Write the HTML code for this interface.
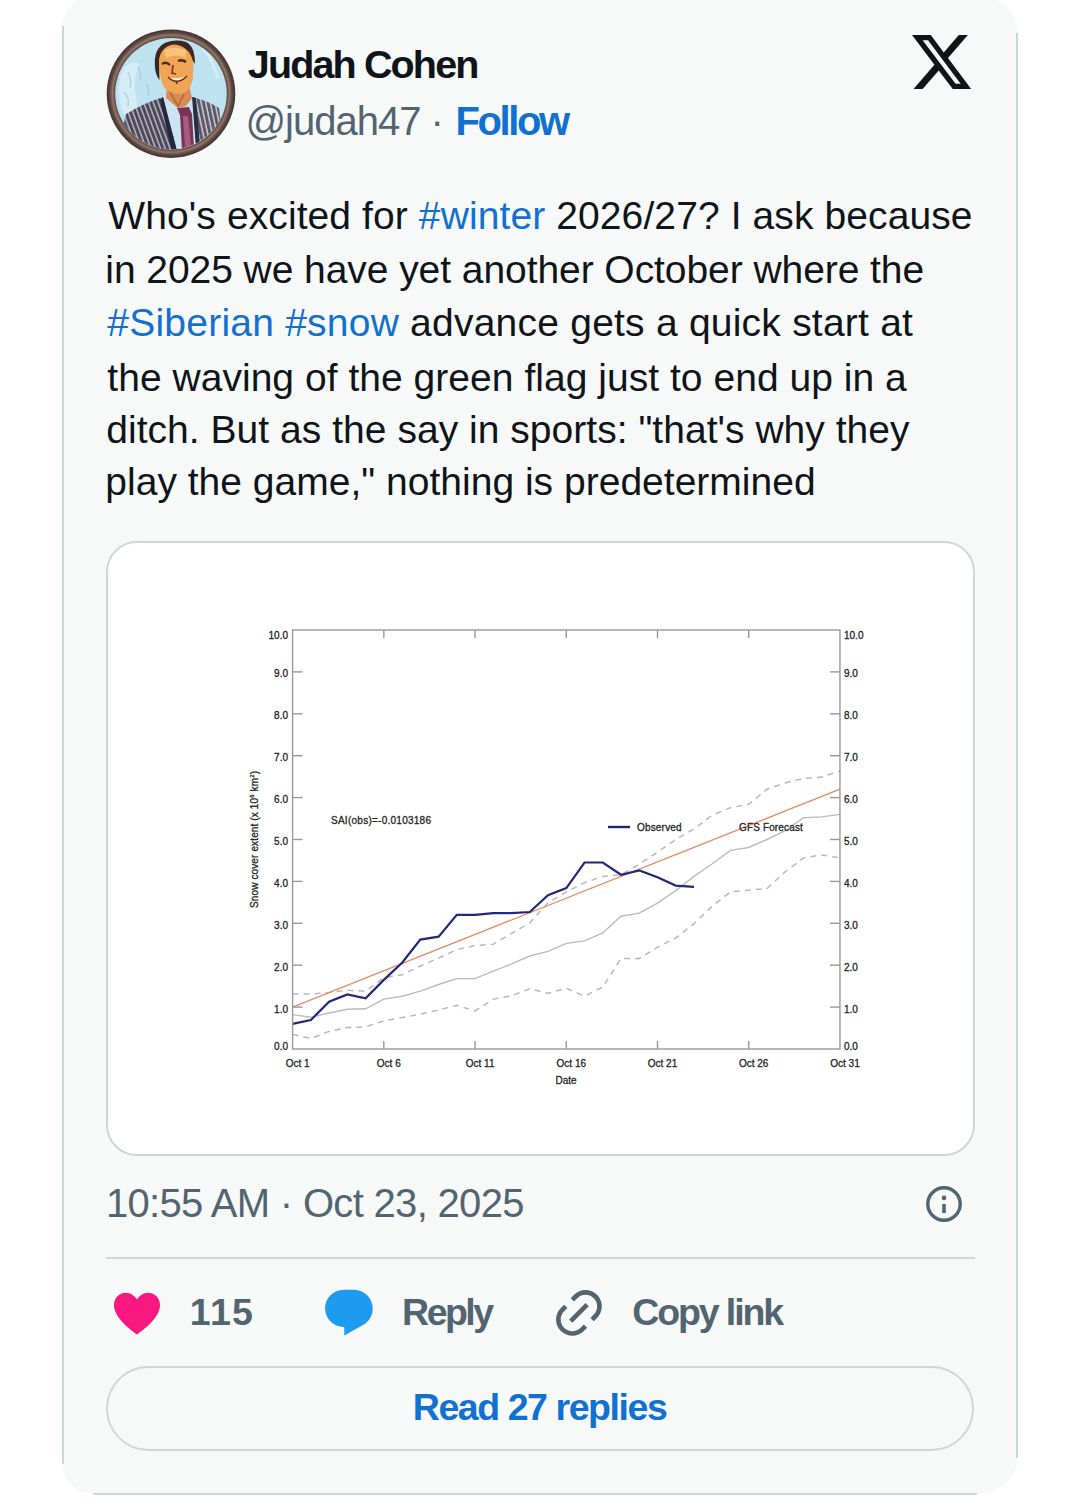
<!DOCTYPE html>
<html><head><meta charset="utf-8"><style>
html,body{margin:0;padding:0;background:#fff;width:1077px;height:1508px;overflow:hidden;font-family:"Liberation Sans",sans-serif;}
.card{position:absolute;box-sizing:border-box;left:62px;top:-4px;width:956px;height:1498px;background:#f7f9f9;border-radius:32px 38px 38px 31px;}
.edge{position:absolute;background:#cfd6da;}
.l{color:#1170d0}
.ct{font-family:"Liberation Sans",sans-serif;font-size:10px;fill:#262626;stroke:#262626;stroke-width:0.3px;}
.box{position:absolute;box-sizing:border-box;left:106px;top:541px;width:869px;height:615px;background:#fff;border:2px solid #cfd5d8;border-radius:31px;}
.div{position:absolute;left:106px;top:1257px;width:869px;height:2px;background:#d0d6d9;}
.btn{position:absolute;box-sizing:border-box;left:106px;top:1366px;width:868px;height:85px;border:2px solid #cfd5d8;border-radius:43px;}
</style></head><body>
<div class="card"></div><div class="edge" style="left:62.3px;top:26px;width:2px;height:1438px"></div><div class="edge" style="left:1016.3px;top:33px;width:2px;height:1425px"></div><div class="edge" style="left:93px;top:1492.5px;width:884px;height:2px"></div>
<svg style="position:absolute;left:106px;top:28px" width="131" height="131" viewBox="0 0 131 131">
<defs>
<clipPath id="cc"><circle cx="65" cy="65.7" r="55.5"/></clipPath>
<pattern id="stL" width="4.5" height="6" patternUnits="userSpaceOnUse" patternTransform="rotate(-20)"><rect width="4.5" height="6" fill="#4a4756"/><rect x="0.3" width="1.4" height="6" fill="#c4bfcc"/></pattern>
<pattern id="stR" width="4.5" height="6" patternUnits="userSpaceOnUse" patternTransform="rotate(-12)"><rect width="4.5" height="6" fill="#5c5866"/><rect x="0.3" width="1.5" height="6" fill="#d2ccd8"/></pattern>
<radialGradient id="ring" cx="0.5" cy="0.5" r="0.5"><stop offset="0.86" stop-color="#4e3c36"/><stop offset="0.91" stop-color="#937568"/><stop offset="0.95" stop-color="#5c4841"/><stop offset="1" stop-color="#3f322f"/></radialGradient>
</defs>
<circle cx="65" cy="65.7" r="64.3" fill="url(#ring)"/>
<circle cx="65" cy="65.7" r="55.8" fill="#bee2f0"/>
<g clip-path="url(#cc)">
<path d="M14 50 Q20 30 34 36 Q26 50 30 70 Q34 86 20 88 Q10 76 14 50 Z" fill="#d8eef7" opacity="0.9"/>
<path d="M22 44 Q26 52 24 60 M18 64 Q24 70 22 78 M32 38 Q36 46 34 52 M40 56 Q44 62 42 68" stroke="#9cc4d4" stroke-width="1.4" fill="none" opacity="0.7"/>
<path d="M96 20 Q106 30 112 50" stroke="#d6edf6" stroke-width="3" fill="none"/>
<!-- shirt -->
<path d="M56 68 L88 68 L92 122 L70 124 Z" fill="#c9e5f4"/>
<!-- suit left -->
<path d="M8 140 L20 86 Q36 76 57 69 L71 123 L72 140 Z" fill="url(#stL)"/>
<path d="M57 69 L71 123 L66 124 L54 72 Z" fill="#23283f"/>
<!-- suit right -->
<path d="M87 69 Q104 74 113 80 L120 140 L86 140 L90 120 Z" fill="url(#stR)"/>
<path d="M86 69 L90 120 L94 118 L90 70 Z" fill="#2a2e44"/>
<!-- tie -->
<path d="M71 80 L83 79 L86 86 L88 120 L76 122 L74 87 Z" fill="#7d3355"/>
<path d="M77 88 L82 88 L85 118 L79 119 Z" fill="#c27a98" opacity="0.6"/>
<!-- neck -->
<path d="M61 58 L83 58 L86 70 L80 78 L72 80 L60 70 Z" fill="#d98a55"/>
<path d="M64 64 L72 78 L78 66" stroke="#9a4a2a" stroke-width="1.5" fill="none" opacity="0.6"/>
<!-- face -->
<path d="M52.5 32 Q54 16 66 15 Q84 15 87.5 32 L87 50 Q84 66 72 66 Q58 65 55 52 Z" fill="#f0a456"/>
<path d="M58 22 Q68 17 80 22 L80 30 Q70 25 60 30 Z" fill="#f6c67c" opacity="0.9"/>
<!-- hair -->
<path d="M49 40 Q47 20 60 14.5 Q70 11 80 14 Q89 18 89 36 L87 33 Q83 18 68 16.5 Q55 18 53 32 L53.5 52 Q50 48 49 40 Z" fill="#3e2620"/>
<!-- eyes -->
<path d="M56 36 Q60 33 64 37" stroke="#4a2a1a" stroke-width="2.4" fill="none"/>
<path d="M72 33 Q76 31 80 34" stroke="#4a2a1a" stroke-width="2.4" fill="none"/>
<path d="M67 37 L66 45 L70 46" stroke="#8a3a20" stroke-width="1.8" fill="none"/>
<!-- smile -->
<path d="M62 49 Q71 58 81 48 Q71 52 62 49 Z" fill="#fbf0e6"/>
<path d="M62 49 Q71 58 81 48" stroke="#6a2a18" stroke-width="1.4" fill="none"/>
<path d="M70 53 L71 56" stroke="#6a2a18" stroke-width="1.5"/>
</g>
</svg>

<svg style="position:absolute;left:911.8px;top:34.9px" width="59.2" height="54.4" viewBox="1.254 2.25 21.5 19.5" preserveAspectRatio="none"><path fill="#0f1419" d="M18.244 2.25h3.308l-7.227 8.26 8.502 11.24H16.17l-5.214-6.817L4.99 21.75H1.68l7.73-8.835L1.254 2.25H8.08l4.713 6.231zm-1.161 17.52h1.833L7.084 4.126H5.117z"/></svg>
<div class="box"></div>
<svg width="1077" height="1508" style="position:absolute;left:0;top:0"><polyline points="292.6,1034.3 310.8,1038.5 329.1,1031.4 347.3,1027.6 365.6,1026.8 383.8,1020.9 402.1,1017.6 420.3,1014.2 438.6,1010.0 456.8,1005.4 475.1,1010.9 493.3,999.1 511.5,995.8 529.8,988.7 548.0,993.3 566.3,988.2 584.5,996.2 602.8,987.0 621.0,958.5 639.3,958.5 657.5,947.2 675.7,938.0 694.0,923.7 712.2,906.1 730.5,891.9 748.7,890.2 767.0,888.5 785.2,871.8 803.5,857.9 821.7,855.0 840.0,857.9" fill="none" stroke="#b8b8bd" stroke-width="1.5" stroke-dasharray="6 5"/><polyline points="292.6,994.1 310.8,994.1 329.1,992.4 347.3,990.3 365.6,991.2 383.8,977.8 402.1,974.8 420.3,966.0 438.6,958.1 456.8,949.7 475.1,945.5 493.3,944.2 511.5,933.4 529.8,922.9 548.0,902.8 566.3,891.9 584.5,882.7 602.8,876.4 621.0,874.7 639.3,864.2 657.5,852.1 675.7,839.5 694.0,829.0 712.2,815.2 730.5,807.7 748.7,804.3 767.0,789.2 785.2,782.9 803.5,778.3 821.7,777.1 840.0,770.8" fill="none" stroke="#b8b8bd" stroke-width="1.5" stroke-dasharray="6 5"/><polyline points="292.6,1014.6 310.8,1017.2 329.1,1013.0 347.3,1009.2 365.6,1008.8 383.8,999.1 402.1,996.2 420.3,991.2 438.6,984.5 456.8,978.6 475.1,978.6 493.3,971.1 511.5,963.9 529.8,956.0 548.0,951.4 566.3,943.4 584.5,940.9 602.8,932.9 621.0,916.2 639.3,913.2 657.5,903.2 675.7,890.6 694.0,876.4 712.2,863.8 730.5,850.4 748.7,847.5 767.0,839.5 785.2,830.7 803.5,817.7 821.7,816.9 840.0,814.4" fill="none" stroke="#bcbcc0" stroke-width="1.4"/><line x1="292.6" y1="1007.1" x2="839.95" y2="789.22" stroke="#e48c62" stroke-width="1.3"/><polyline points="292.6,1023.9 310.8,1020.1 329.1,1001.7 347.3,994.5 365.6,998.3 383.8,979.9 402.1,962.7 420.3,939.6 438.6,936.7 456.8,914.9 475.1,914.9 493.3,913.2 511.5,913.2 529.8,912.0 548.0,895.2 566.3,888.1 584.5,862.5 602.8,862.5 621.0,874.7 639.3,870.5 657.5,877.2 675.7,885.6 694.0,886.8" fill="none" stroke="#232878" stroke-width="2.2" stroke-linejoin="miter"/><rect x="292.6" y="630.0" width="547.35" height="419.0" fill="none" stroke="#999999" stroke-width="1.4"/><line x1="383.82500000000005" y1="630.0" x2="383.82500000000005" y2="638.0" stroke="#999999" stroke-width="1.4"/><line x1="383.82500000000005" y1="1049.0" x2="383.82500000000005" y2="1041.0" stroke="#999999" stroke-width="1.4"/><line x1="475.05000000000007" y1="630.0" x2="475.05000000000007" y2="638.0" stroke="#999999" stroke-width="1.4"/><line x1="475.05000000000007" y1="1049.0" x2="475.05000000000007" y2="1041.0" stroke="#999999" stroke-width="1.4"/><line x1="566.2750000000001" y1="630.0" x2="566.2750000000001" y2="638.0" stroke="#999999" stroke-width="1.4"/><line x1="566.2750000000001" y1="1049.0" x2="566.2750000000001" y2="1041.0" stroke="#999999" stroke-width="1.4"/><line x1="657.5" y1="630.0" x2="657.5" y2="638.0" stroke="#999999" stroke-width="1.4"/><line x1="657.5" y1="1049.0" x2="657.5" y2="1041.0" stroke="#999999" stroke-width="1.4"/><line x1="748.725" y1="630.0" x2="748.725" y2="638.0" stroke="#999999" stroke-width="1.4"/><line x1="748.725" y1="1049.0" x2="748.725" y2="1041.0" stroke="#999999" stroke-width="1.4"/><line x1="292.6" y1="1007.1" x2="302.6" y2="1007.1" stroke="#999999" stroke-width="1.4"/><line x1="839.95" y1="1007.1" x2="829.95" y2="1007.1" stroke="#999999" stroke-width="1.4"/><line x1="292.6" y1="965.2" x2="302.6" y2="965.2" stroke="#999999" stroke-width="1.4"/><line x1="839.95" y1="965.2" x2="829.95" y2="965.2" stroke="#999999" stroke-width="1.4"/><line x1="292.6" y1="923.3" x2="302.6" y2="923.3" stroke="#999999" stroke-width="1.4"/><line x1="839.95" y1="923.3" x2="829.95" y2="923.3" stroke="#999999" stroke-width="1.4"/><line x1="292.6" y1="881.4" x2="302.6" y2="881.4" stroke="#999999" stroke-width="1.4"/><line x1="839.95" y1="881.4" x2="829.95" y2="881.4" stroke="#999999" stroke-width="1.4"/><line x1="292.6" y1="839.5" x2="302.6" y2="839.5" stroke="#999999" stroke-width="1.4"/><line x1="839.95" y1="839.5" x2="829.95" y2="839.5" stroke="#999999" stroke-width="1.4"/><line x1="292.6" y1="797.6" x2="302.6" y2="797.6" stroke="#999999" stroke-width="1.4"/><line x1="839.95" y1="797.6" x2="829.95" y2="797.6" stroke="#999999" stroke-width="1.4"/><line x1="292.6" y1="755.7" x2="302.6" y2="755.7" stroke="#999999" stroke-width="1.4"/><line x1="839.95" y1="755.7" x2="829.95" y2="755.7" stroke="#999999" stroke-width="1.4"/><line x1="292.6" y1="713.8" x2="302.6" y2="713.8" stroke="#999999" stroke-width="1.4"/><line x1="839.95" y1="713.8" x2="829.95" y2="713.8" stroke="#999999" stroke-width="1.4"/><line x1="292.6" y1="671.9000000000001" x2="302.6" y2="671.9000000000001" stroke="#999999" stroke-width="1.4"/><line x1="839.95" y1="671.9000000000001" x2="829.95" y2="671.9000000000001" stroke="#999999" stroke-width="1.4"/><line x1="608" y1="827" x2="630" y2="827" stroke="#1f2470" stroke-width="2.4"/><text x="288" y="1050.0" text-anchor="end" class="ct">0.0</text><text x="844" y="1050.0" class="ct">0.0</text><text x="288" y="1012.6" text-anchor="end" class="ct">1.0</text><text x="844" y="1012.6" class="ct">1.0</text><text x="288" y="970.7" text-anchor="end" class="ct">2.0</text><text x="844" y="970.7" class="ct">2.0</text><text x="288" y="928.8" text-anchor="end" class="ct">3.0</text><text x="844" y="928.8" class="ct">3.0</text><text x="288" y="886.9" text-anchor="end" class="ct">4.0</text><text x="844" y="886.9" class="ct">4.0</text><text x="288" y="845.0" text-anchor="end" class="ct">5.0</text><text x="844" y="845.0" class="ct">5.0</text><text x="288" y="803.1" text-anchor="end" class="ct">6.0</text><text x="844" y="803.1" class="ct">6.0</text><text x="288" y="761.2" text-anchor="end" class="ct">7.0</text><text x="844" y="761.2" class="ct">7.0</text><text x="288" y="719.3" text-anchor="end" class="ct">8.0</text><text x="844" y="719.3" class="ct">8.0</text><text x="288" y="677.4" text-anchor="end" class="ct">9.0</text><text x="844" y="677.4" class="ct">9.0</text><text x="288" y="638.5" text-anchor="end" class="ct">10.0</text><text x="844" y="638.5" class="ct">10.0</text><text x="297.6" y="1067" text-anchor="middle" class="ct">Oct 1</text><text x="388.8" y="1067" text-anchor="middle" class="ct">Oct 6</text><text x="480.1" y="1067" text-anchor="middle" class="ct">Oct 11</text><text x="571.3" y="1067" text-anchor="middle" class="ct">Oct 16</text><text x="662.5" y="1067" text-anchor="middle" class="ct">Oct 21</text><text x="753.7" y="1067" text-anchor="middle" class="ct">Oct 26</text><text x="845.0" y="1067" text-anchor="middle" class="ct">Oct 31</text><text x="566" y="1084" text-anchor="middle" class="ct">Date</text><text x="331" y="823.5" class="ct" textLength="100" lengthAdjust="spacing">SAI(obs)=-0.0103186</text><text x="637" y="830.5" class="ct" textLength="44.6" lengthAdjust="spacing">Observed</text><text x="739" y="830.5" class="ct" textLength="63.8" lengthAdjust="spacing">GFS Forecast</text><text transform="translate(258,839.5) rotate(-90)" text-anchor="middle" class="ct" textLength="137" lengthAdjust="spacing">Snow cover extent (x 10<tspan dy="-4" font-size="6">6</tspan><tspan dy="4"> km</tspan><tspan dy="-4" font-size="6">2</tspan><tspan dy="4">)</tspan></text></svg>
<svg style="position:absolute;left:925px;top:1185px" width="38" height="38" viewBox="0 0 38 38"><circle cx="19" cy="19" r="16.2" fill="none" stroke="#536471" stroke-width="3.4"/><circle cx="19" cy="12.9" r="2.3" fill="#536471"/><rect x="17.2" y="19" width="3.6" height="9" fill="#536471"/></svg>
<div class="div"></div>
<svg style="position:absolute;left:113px;top:1292px" width="48" height="43" viewBox="0 0 24 21.5"><path fill="#f91880" d="M12 21.3 C 9 19 0.5 13 0.5 6.6 C 0.5 3 3.2 0.4 6.4 0.4 C 8.8 0.4 10.8 1.8 12 3.8 C 13.2 1.8 15.2 0.4 17.6 0.4 C 20.8 0.4 23.5 3 23.5 6.6 C 23.5 13 15 19 12 21.3 Z"/></svg>
<svg style="position:absolute;left:321.33px;top:1284.95px" width="55.84" height="55.84" viewBox="0 0 24 24"><path fill="#1d9bf0" d="M1.751 10c0-4.42 3.584-8 8.005-8h4.366c4.49 0 8.129 3.64 8.129 8.13 0 2.96-1.607 5.68-4.196 7.11l-8.054 4.46v-3.69h-.067c-4.49.1-8.183-3.51-8.183-8.01z"/></svg>
<svg style="position:absolute;left:551.34px;top:1285.04px" width="55.91" height="55.91" viewBox="0 0 24 24"><path fill="#536471" d="M18.36 5.64c-1.95-1.96-5.11-1.96-7.07 0L9.88 7.05 8.46 5.64l1.42-1.42c2.73-2.73 7.16-2.73 9.9 0 2.73 2.74 2.73 7.17 0 9.9l-1.42 1.42-1.41-1.42 1.41-1.41c1.96-1.96 1.960-5.12 0-7.07zm-2.12 3.53l-7.07 7.07-1.41-1.41 7.07-7.07 1.41 1.41zm-12.02.71l1.42-1.42 1.41 1.42-1.41 1.41c-1.96 1.96-1.96 5.12 0 7.07 1.95 1.96 5.11 1.96 7.07 0l1.41-1.41 1.42 1.41-1.42 1.42c-2.73 2.730-7.16 2.73-9.9 0-2.73-2.74-2.73-7.17 0-9.9z"/></svg>
<div class="btn"></div>
<div id="name" style="position:absolute;left:247.80px;top:45.06px;font-size:39.5px;line-height:39.5px;color:#0f1419;font-weight:700;letter-spacing:-1.860px;white-space:nowrap">Judah Cohen</div><div id="handle" style="position:absolute;left:245.40px;top:100.94px;font-size:40px;line-height:40px;color:#536471;font-weight:400;letter-spacing:-0.971px;white-space:nowrap">@judah47</div><div id="dot" style="position:absolute;left:430.50px;top:100.94px;font-size:40px;line-height:40px;color:#536471;font-weight:400;letter-spacing:0.000px;white-space:nowrap">·</div><div id="follow" style="position:absolute;left:455.40px;top:100.94px;font-size:40px;line-height:40px;color:#1170d0;font-weight:700;letter-spacing:-2.360px;white-space:nowrap">Follow</div><div id="l0" style="position:absolute;left:108.30px;top:195.99px;font-size:39px;line-height:39px;color:#0f1419;font-weight:400;letter-spacing:0.102px;white-space:nowrap">Who's excited for <span class=l>#winter</span> 2026/27? I ask because</div><div id="l1" style="position:absolute;left:105.30px;top:249.79px;font-size:39px;line-height:39px;color:#0f1419;font-weight:400;letter-spacing:-0.064px;white-space:nowrap">in 2025 we have yet another October where the</div><div id="l2" style="position:absolute;left:107.30px;top:302.79px;font-size:39px;line-height:39px;color:#0f1419;font-weight:400;letter-spacing:0.227px;white-space:nowrap"><span class=l>#Siberian</span> <span class=l>#snow</span> advance gets a quick start at</div><div id="l3" style="position:absolute;left:107.30px;top:357.59px;font-size:39px;line-height:39px;color:#0f1419;font-weight:400;letter-spacing:0.034px;white-space:nowrap">the waving of the green flag just to end up in a</div><div id="l4" style="position:absolute;left:106.30px;top:409.99px;font-size:39px;line-height:39px;color:#0f1419;font-weight:400;letter-spacing:0.033px;white-space:nowrap">ditch. But as the say in sports: "that's why they</div><div id="l5" style="position:absolute;left:105.30px;top:462.29px;font-size:39px;line-height:39px;color:#0f1419;font-weight:400;letter-spacing:0.015px;white-space:nowrap">play the game," nothing is predetermined</div><div id="ts" style="position:absolute;left:105.90px;top:1182.94px;font-size:40px;line-height:40px;color:#536471;font-weight:400;letter-spacing:-0.682px;white-space:nowrap">10:55 AM · Oct 23, 2025</div><div id="n115" style="position:absolute;left:189.80px;top:1293.96px;font-size:37.5px;line-height:37.5px;color:#536471;font-weight:700;letter-spacing:1.300px;white-space:nowrap">115</div><div id="reply" style="position:absolute;left:402.10px;top:1293.96px;font-size:37.5px;line-height:37.5px;color:#536471;font-weight:700;letter-spacing:-2.550px;white-space:nowrap">Reply</div><div id="copy" style="position:absolute;left:632.20px;top:1293.96px;font-size:37.5px;line-height:37.5px;color:#536471;font-weight:700;letter-spacing:-2.100px;white-space:nowrap">Copy link</div><div id="read" style="position:absolute;left:412.80px;top:1388.56px;font-size:37.5px;line-height:37.5px;color:#1170d0;font-weight:700;letter-spacing:-1.443px;white-space:nowrap">Read 27 replies</div>
</body></html>
